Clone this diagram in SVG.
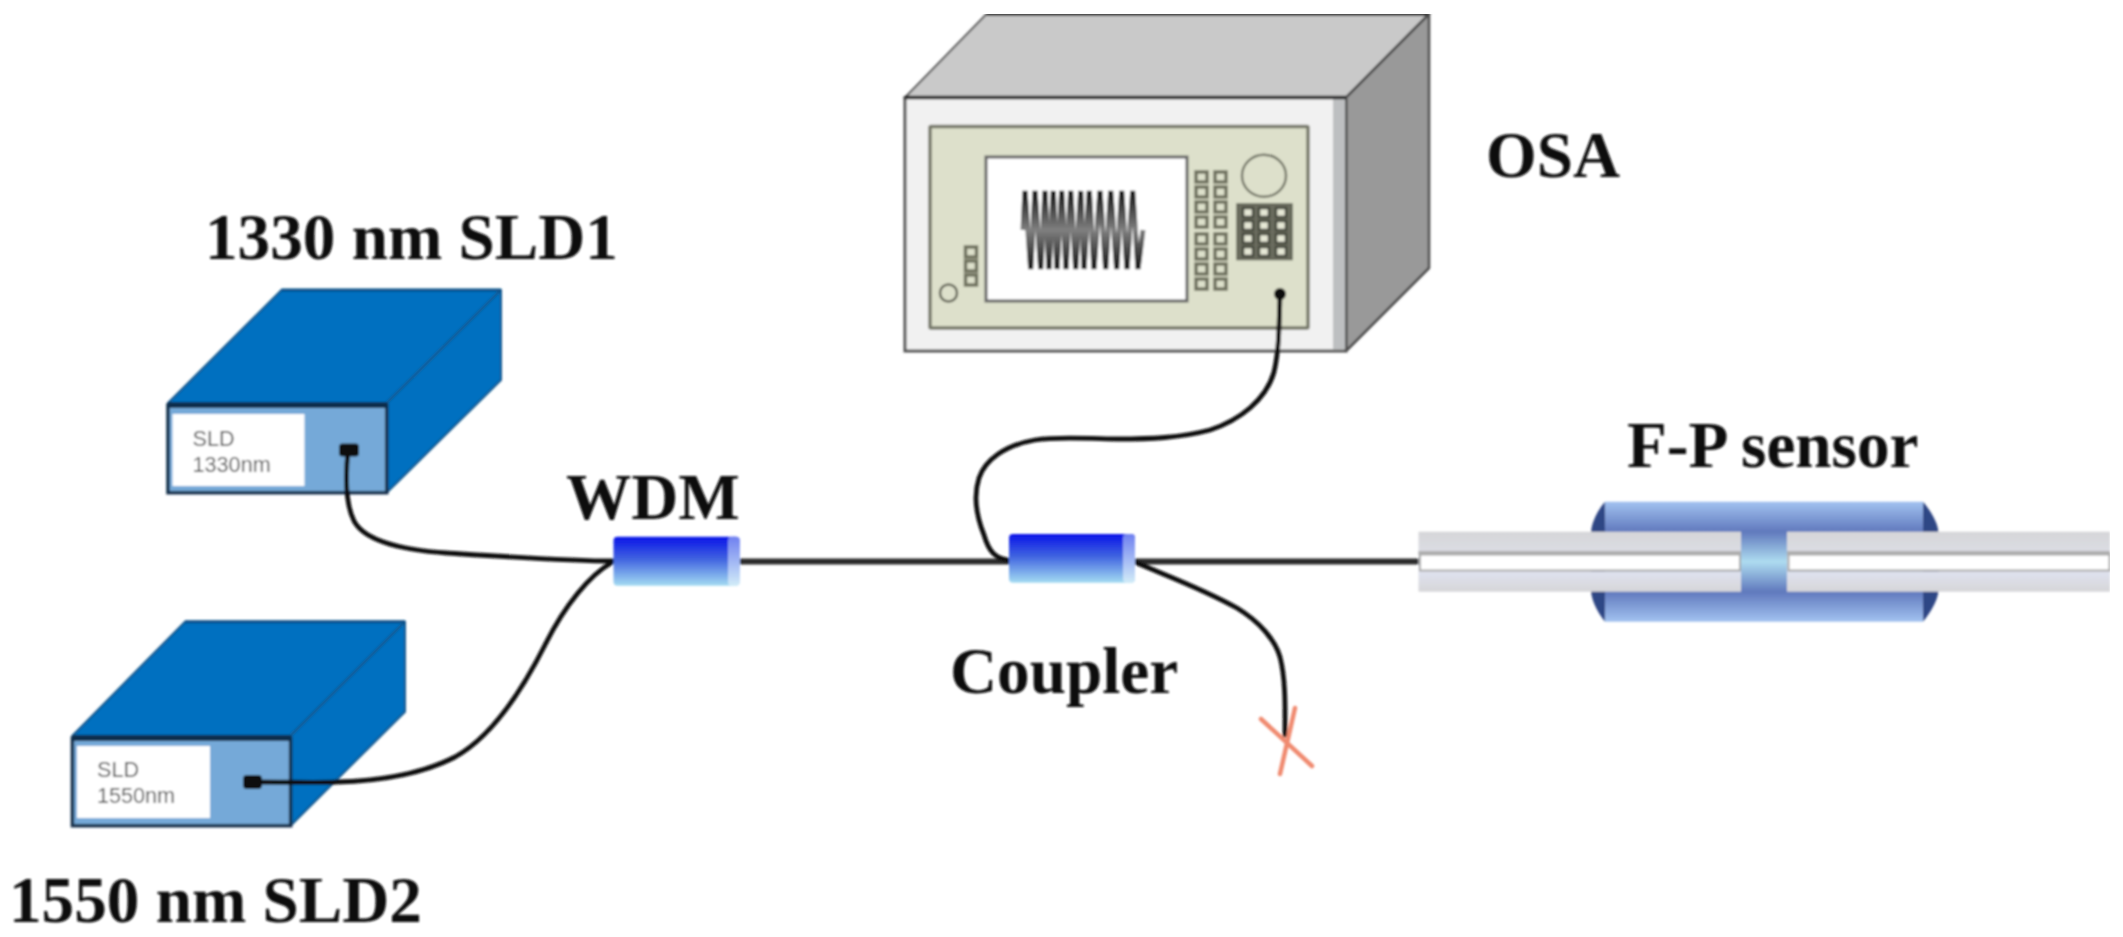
<svg xmlns="http://www.w3.org/2000/svg" width="2123" height="937" viewBox="0 0 2123 937">
<style>
.t{font-family:"Liberation Serif","Times New Roman",serif;font-weight:700;font-size:65.2px;fill:#0c0c0c}
.s{font-family:"Liberation Sans",Arial,sans-serif;font-size:21.6px;fill:#555}
.blue{fill:#0070c0;stroke:#15598f;stroke-width:2;stroke-linejoin:round}
.face{fill:#75a9d8;stroke:#12304e;stroke-width:3.5}
.lab{fill:#fff}
.fib{fill:none;stroke:#111;stroke-width:4.8;stroke-linecap:round}
.main{fill:none;stroke:#2a2a2a;stroke-width:6}
.btn{fill:#dde0cb;stroke:#70725f;stroke-width:3.5}
.key{fill:#e6e8d6;stroke:#45473c;stroke-width:2.5}
.x{stroke:#f08a70;stroke-width:4.5;stroke-linecap:round;fill:none}
</style>
<defs>
<filter id="soft" x="0" y="0" width="100%" height="100%"><feGaussianBlur stdDeviation="0.8"/></filter>
<linearGradient id="cyl" x1="0" y1="0" x2="0" y2="1"><stop offset="0" stop-color="#0a14e8"/><stop offset="0.45" stop-color="#3f62e0"/><stop offset="1" stop-color="#a4dcf2"/></linearGradient>
<linearGradient id="cap" x1="0" y1="0" x2="0" y2="1"><stop offset="0" stop-color="#6f80f0"/><stop offset="1" stop-color="#d2ecf8"/></linearGradient>
<linearGradient id="sleeve" x1="0" y1="0" x2="0" y2="1"><stop offset="0" stop-color="#a2c2f0"/><stop offset="0.25" stop-color="#6079bd"/><stop offset="0.5" stop-color="#aedcf0"/><stop offset="0.75" stop-color="#6079bd"/><stop offset="1" stop-color="#a2c2f0"/></linearGradient>
<linearGradient id="gt" x1="0" y1="0" x2="0" y2="1"><stop offset="0" stop-color="#d6d6d8"/><stop offset="1" stop-color="#dfe2ef"/></linearGradient>
<linearGradient id="gb" x1="0" y1="0" x2="0" y2="1"><stop offset="0" stop-color="#dfe2ef"/><stop offset="1" stop-color="#d6d6d8"/></linearGradient>
<linearGradient id="wave" gradientUnits="userSpaceOnUse" x1="0" y1="190" x2="0" y2="270"><stop offset="0" stop-color="#111"/><stop offset="0.5" stop-color="#808080"/><stop offset="1" stop-color="#111"/></linearGradient>
</defs>
<rect width="2123" height="937" fill="#fff"/>
<g filter="url(#soft)">

<g id="osa">
<path d="M905 97.500L986.500 14H1429L1346 97.500Z" fill="#c9c9c9" stroke="#5a5a5a" stroke-width="2"/>
<path d="M986.500 14H1429" stroke="#222" stroke-width="3.500"/>
<path d="M1346 97.500L1429 14V268L1346 351Z" fill="#999" stroke="#4a4a4a" stroke-width="2.500" stroke-linejoin="round"/>
<rect x="905" y="97.500" width="441" height="253.500" fill="#f1f1f1" stroke="#555" stroke-width="3"/>
<rect x="1333" y="99" width="12" height="250" fill="#bdbfc1"/>
<path d="M905 97.500H1346" stroke="#222" stroke-width="3.500"/>
<rect x="930" y="126.500" width="378" height="201.500" fill="#dde0cb" stroke="#77796a" stroke-width="3.500" rx="1"/>
<rect x="986" y="157" width="201" height="144" fill="#fff" stroke="#666" stroke-width="3"/>
<polyline fill="none" stroke="url(#wave)" stroke-width="5" stroke-linejoin="bevel" points="1023,230 1025,191 1030.700,269 1035,191 1040.700,269 1045,191 1049,269 1053.300,191 1057,269 1061.700,191 1066,269 1070.700,191 1075.700,269 1080.700,191 1084,269 1089.300,191 1094,269 1100,191 1105.700,269 1110.700,191 1116.700,269 1121.700,191 1127,269 1132.700,191 1138,269 1143,230"/>
<g>
<rect class="btn" x="1196" y="172" width="11" height="10"/><rect class="btn" x="1215" y="172" width="11" height="10"/>
<rect class="btn" x="1196" y="187" width="11" height="10"/><rect class="btn" x="1215" y="187" width="11" height="10"/>
<rect class="btn" x="1196" y="202" width="11" height="10"/><rect class="btn" x="1215" y="202" width="11" height="10"/>
<rect class="btn" x="1196" y="217" width="11" height="10"/><rect class="btn" x="1215" y="217" width="11" height="10"/>
<rect class="btn" x="1196" y="234" width="11" height="10"/><rect class="btn" x="1215" y="234" width="11" height="10"/>
<rect class="btn" x="1196" y="249" width="11" height="10"/><rect class="btn" x="1215" y="249" width="11" height="10"/>
<rect class="btn" x="1196" y="264" width="11" height="10"/><rect class="btn" x="1215" y="264" width="11" height="10"/>
<rect class="btn" x="1196" y="279" width="11" height="10"/><rect class="btn" x="1215" y="279" width="11" height="10"/>
</g>
<ellipse cx="1264" cy="175.700" rx="22" ry="21" fill="none" stroke="#77796a" stroke-width="2.500"/>
<rect x="1237" y="204" width="55" height="55.500" fill="#6a6c5e" stroke="#5d5f52" stroke-width="1.500"/>
<g>
<rect class="key" x="1243" y="208" width="10" height="9"/><rect class="key" x="1259" y="208" width="10" height="9"/><rect class="key" x="1276" y="208" width="10" height="9"/>
<rect class="key" x="1243" y="221" width="10" height="9"/><rect class="key" x="1259" y="221" width="10" height="9"/><rect class="key" x="1276" y="221" width="10" height="9"/>
<rect class="key" x="1243" y="234" width="10" height="9"/><rect class="key" x="1259" y="234" width="10" height="9"/><rect class="key" x="1276" y="234" width="10" height="9"/>
<rect class="key" x="1243" y="247" width="10" height="9"/><rect class="key" x="1259" y="247" width="10" height="9"/><rect class="key" x="1276" y="247" width="10" height="9"/>
</g>
<rect class="btn" x="965.500" y="247" width="11" height="10"/>
<rect class="btn" x="965.500" y="261" width="11" height="10"/>
<rect class="btn" x="965.500" y="275" width="11" height="10"/>
<circle cx="948.500" cy="293" r="8.500" fill="none" stroke="#66685a" stroke-width="2.500"/>
<circle cx="1280" cy="294" r="6" fill="#111"/>
<text class="t" x="1486" y="177">OSA</text>
</g>

<g id="sld1">
<path class="blue" d="M168 403L281.500 290H501L386.700 403Z"/>
<path class="blue" d="M386.700 403L501 290V380L386.700 492.700Z"/>
<path d="M281.500 290H501" stroke="#0a4f88" stroke-width="3"/>
<rect class="face" x="168" y="405" width="218.700" height="87.700"/>
<path d="M168 405H386.700" stroke="#0b2f4e" stroke-width="6"/>
<rect class="lab" x="172.500" y="414" width="132" height="72"/>
<text class="s" x="192.600" y="445.700">SLD</text>
<text class="s" x="192.600" y="471.700">1330nm</text>
<rect x="339" y="443.500" width="20" height="13" rx="3.500" fill="#0c0c0c"/>
<text class="t" x="205" y="259">1330 nm SLD1</text>
</g>

<g id="sld2">
<path class="blue" d="M72.400 735.700L185 621.700H405L290.600 735.700Z"/>
<path class="blue" d="M290.600 735.700L405 621.700V711.700L290.600 825.700Z"/>
<path d="M185 621.700H405" stroke="#0a4f88" stroke-width="3"/>
<rect class="face" x="72.400" y="738" width="218.200" height="87.700"/>
<path d="M72.400 738H290.600" stroke="#0b2f4e" stroke-width="6"/>
<rect class="lab" x="77" y="746" width="133" height="72"/>
<text class="s" x="97" y="776.700">SLD</text>
<text class="s" x="97" y="803">1550nm</text>
<rect x="243" y="775" width="19" height="14" rx="4" fill="#0c0c0c"/>
<text class="t" x="9" y="921.700">1550 nm SLD2</text>
</g>

<g id="connectors">
<path class="main" d="M740 561.500H1009M1135 561.500H1420"/>
<path class="fib" d="M348 450C345 480 346 505 354 521C364 540 400 550 447 553C510 557 570 561 613 561"/>
<path class="fib" d="M252 782C290 782 320 783 336 782C375 781 420 775 455 757C495 735 525 685 546 643C565 605 590 575 611 563"/>
<path class="fib" d="M1280 294C1279 330 1279 350 1274 372C1266 400 1240 420 1210 430C1180 438 1150 439 1117 439C1090 439 1060 436 1035 440C1005 445 985 460 979 478C972 500 978 520 984 535C989 552 995 558 1008 560"/>
<path class="fib" d="M1137 563C1170 577 1205 590 1237 608C1260 622 1275 640 1280 657C1286 680 1285 710 1285 735"/>
</g>

<g id="wdm">
<rect x="613.500" y="536.700" width="126" height="49" rx="4" fill="url(#cyl)"/>
<rect x="728" y="536.700" width="12" height="49" rx="4" fill="url(#cap)"/>
<text class="t" x="566" y="519">WDM</text>
</g>

<g id="coupler">
<rect x="1009" y="534" width="126" height="48.700" rx="4" fill="url(#cyl)"/>
<rect x="1123" y="534" width="12" height="48.700" rx="4" fill="url(#cap)"/>
<text class="t" x="950" y="692.700">Coupler</text>
</g>

<g id="fp-sensor">
<path d="M1605 501.700C1596 512 1591 525 1591 533V590C1591 598 1596 611 1605 621.700Z" fill="#2f4685"/>
<path d="M1923 501.700C1932 512 1938.500 525 1938.500 533V590C1938.500 598 1932 611 1923 621.700Z" fill="#2f4685"/>
<rect x="1605" y="501.700" width="318" height="120" fill="url(#sleeve)"/>
<rect x="1418.500" y="531.700" width="322.500" height="40" fill="url(#gt)"/>
<rect x="1787" y="531.700" width="323" height="40" fill="url(#gt)"/>
<rect x="1418.500" y="571.700" width="322.500" height="20" fill="url(#gb)"/>
<rect x="1787" y="571.700" width="323" height="20" fill="url(#gb)"/>
<rect x="1418.500" y="551" width="322.500" height="4" fill="#b0b0b0"/>
<rect x="1787" y="551" width="323" height="4" fill="#b0b0b0"/>
<rect x="1420" y="554.500" width="320" height="16" fill="#fff" stroke="#a9a9a9" stroke-width="2"/>
<rect x="1788.500" y="554.500" width="321" height="16" fill="#fff" stroke="#a9a9a9" stroke-width="2"/>
<text class="t" x="1627" y="467">F-P sensor</text>
</g>

<g id="termination">
<path class="x" d="M1261 719L1312 766M1295 708L1280 774"/>
</g>
</g>
</svg>
